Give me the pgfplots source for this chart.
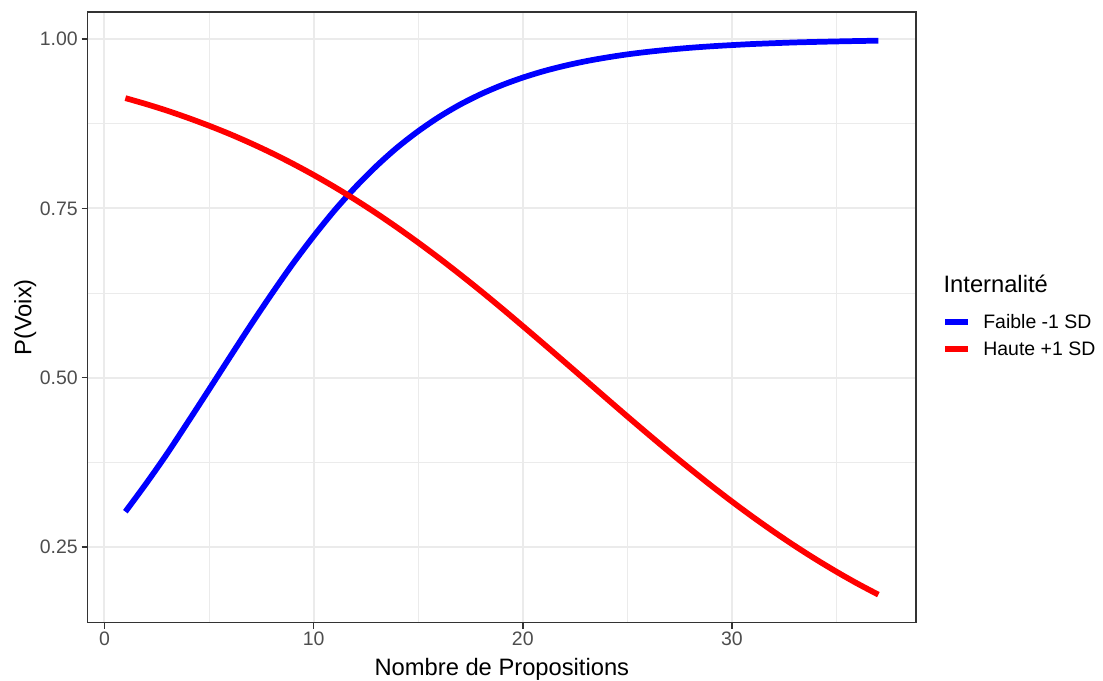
\documentclass[border=0pt]{standalone}
\usepackage{pgfplots}
\pgfplotsset{compat=1.18}
\usepackage{fontspec}
\setmainfont{Liberation Sans}
\definecolor{tickgray}{HTML}{4D4D4D}
\definecolor{bordergray}{HTML}{333333}
\definecolor{gridgray}{HTML}{EBEBEB}
\begin{document}
\begin{tikzpicture}
\useasboundingbox (0,0) rectangle (827.25pt,510.75pt);
\begin{axis}[
  at={(65.8pt,43.7pt)}, anchor=south west,
  scale only axis, width=621.2pt, height=458pt,
  xmin=-0.8, xmax=38.8, ymin=0.138, ymax=1.04,
  xtick={0,10,20,30}, ytick={0.25,0.5,0.75,1.0},
  yticklabels={0.25,0.50,0.75,1.00},
  minor xtick={5,15,25,35}, minor ytick={0.375,0.625,0.875},
  grid=both,
  major grid style={color=gridgray, line width=1.5pt},
  minor grid style={color=gridgray, line width=0.75pt},
  axis line style={color=bordergray, line width=1.1pt},
  tick align=outside, tick pos=left,
  major tick length=4.5pt, minor tick length=0pt,
  tick style={color=bordergray, line width=1.1pt},
  /pgf/number format/assume math mode=true,
  ticklabel style={font=\fontsize{14.6}{17}\selectfont, color=tickgray},
  yticklabel style={anchor=east, inner sep=0pt, xshift=-2.8pt},
  xticklabel style={anchor=north, inner sep=0pt, yshift=-2.5pt},
  xlabel={Nombre de Propositions},
  ylabel={P(Voix)},
  label style={font=\fontsize{17.8}{21}\selectfont, color=black},
  xlabel style={at={(axis description cs:0.5,-0.0856)}, anchor=base, inner sep=0pt},
  ylabel style={at={(axis description cs:-0.0680,0.5)}, anchor=base, inner sep=0pt},
  legend style={at={(axis description cs:1.0314,0.4703)}, anchor=west, draw=none, fill=none,
    inner sep=0pt, nodes={inner sep=0pt}, row sep=8.5pt, column sep=9pt,
    font=\fontsize{14.6}{17}\selectfont},
  legend cell align=left,
  legend image code/.code={\draw[#1] (0pt,0pt) -- (17.5pt,0pt);},
  clip=false,
]
\addplot[color=blue, line width=4.3pt, smooth] coordinates {
(1,0.3020) (2,0.3439) (3,0.3880) (4,0.4349) (5,0.4825) (6,0.5305) (7,0.5780) (8,0.6239)
(9,0.6680) (10,0.7089) (11,0.7470) (12,0.7814) (13,0.8124) (14,0.8400) (15,0.8640)
(16,0.8851) (17,0.9033) (18,0.9188) (19,0.9320) (20,0.9432) (21,0.9527) (22,0.9606)
(23,0.9673) (24,0.9728) (25,0.9775) (26,0.9813) (27,0.9845) (28,0.9872) (29,0.9894)
(30,0.9912) (31,0.9928) (32,0.9940) (33,0.9951) (34,0.9959) (35,0.9966) (36,0.9972) (37,0.9977)
};
\addlegendentry{Faible -1 SD}
\addplot[color=red, line width=4.3pt, smooth] coordinates {
(1,0.9129) (2,0.9040) (3,0.8943) (4,0.8836) (5,0.8721) (6,0.8597) (7,0.8462) (8,0.8317)
(9,0.8161) (10,0.7994) (11,0.7816) (12,0.7627) (13,0.7427) (14,0.7216) (15,0.6995)
(16,0.6765) (17,0.6525) (18,0.6278) (19,0.6023) (20,0.5762) (21,0.5498) (22,0.5231)
(23,0.4963) (24,0.4694) (25,0.4427) (26,0.4164) (27,0.3905) (28,0.3653) (29,0.3407)
(30,0.3170) (31,0.2942) (32,0.2724) (33,0.2516) (34,0.2319) (35,0.2133) (36,0.1958) (37,0.1795)
};
\addlegendentry{Haute +1 SD}
\end{axis}
\node[anchor=base west, inner sep=0pt, font=\fontsize{17.8}{21}\selectfont] at (707.5pt,291.2pt) {Internalité};
\end{tikzpicture}
\end{document}
